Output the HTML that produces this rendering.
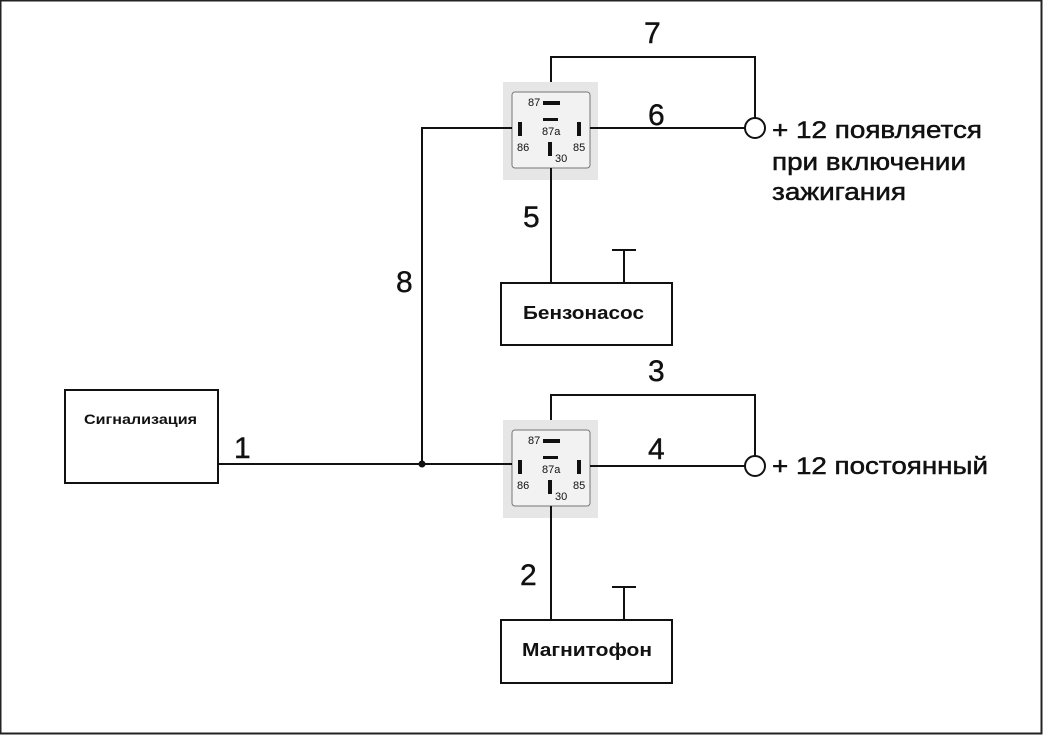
<!DOCTYPE html>
<html><head><meta charset="utf-8"><style>
html,body{margin:0;padding:0;background:#fff}
svg{display:block}
text{font-family:"Liberation Sans",Arial,sans-serif;fill:#111}
</style></head><body>
<svg width="1043" height="736" viewBox="0 0 1043 736" xmlns="http://www.w3.org/2000/svg">
<rect x="0" y="0" width="1043" height="736" fill="#fff"/>
<rect x="0.5" y="0.5" width="1041" height="733" fill="none" stroke="#222" stroke-width="2"/>
<defs>
<g id="relay">
<rect x="503" y="82" width="95" height="98" fill="#e6e6e6"/>
<rect x="512" y="92" width="78" height="76" rx="3" fill="#f2f2f2" stroke="#777" stroke-width="1"/>
<rect x="543" y="101" width="17" height="4" fill="#111"/>
<rect x="543" y="118" width="15" height="3" fill="#111"/>
<rect x="518" y="122" width="4" height="14" fill="#111"/>
<rect x="577" y="122" width="4" height="14" fill="#111"/>
<rect x="548" y="142" width="4" height="14" fill="#111"/>
<text x="528" y="106" font-size="11">87</text>
<text x="542" y="135" font-size="11">87a</text>
<text x="517" y="151" font-size="11">86</text>
<text x="573" y="151" font-size="11">85</text>
<text x="555" y="162" font-size="11">30</text>
</g>
</defs>
<use href="#relay"/>
<use href="#relay" y="338"/>
<g stroke="#111" stroke-width="2" fill="none">
<polyline points="551,82 551,57 755,57 755,118"/>
<line x1="590" y1="128" x2="745" y2="128"/>
<circle cx="755" cy="128" r="10" fill="#fff"/>
<polyline points="512,128 422,128 422,464"/>
<line x1="551" y1="168" x2="551" y2="283"/>
<rect x="501" y="283" width="171" height="62"/>
<line x1="624" y1="250" x2="624" y2="283"/>
<line x1="612" y1="250" x2="636" y2="250"/>
<polyline points="551,420 551,395 755,395 755,456"/>
<line x1="590" y1="466" x2="745" y2="466"/>
<circle cx="755" cy="466" r="10" fill="#fff"/>
<line x1="218" y1="464" x2="512" y2="464"/>
<line x1="551" y1="506" x2="551" y2="620"/>
<rect x="501" y="620" width="171" height="63"/>
<line x1="624" y1="587" x2="624" y2="620"/>
<line x1="612" y1="587" x2="636" y2="587"/>
<rect x="65" y="390" width="153" height="93"/>
</g>
<circle cx="422" cy="464" r="3.5" fill="#111"/>
<g font-size="30" stroke="#111" stroke-width="0.4">
<text x="644" y="43">7</text>
<text x="648" y="125">6</text>
<text x="523" y="227">5</text>
<text x="396" y="292">8</text>
<text x="648" y="381">3</text>
<text x="648" y="459">4</text>
<text x="234" y="458">1</text>
<text x="520" y="585">2</text>
</g>
<g font-size="24" stroke="#111" stroke-width="0.5" lengthAdjust="spacingAndGlyphs">
<text x="772" y="138" textLength="210" lengthAdjust="spacingAndGlyphs">+ 12 появляется</text>
<text x="772" y="170" textLength="194" lengthAdjust="spacingAndGlyphs">при включении</text>
<text x="772" y="200" textLength="134" lengthAdjust="spacingAndGlyphs">зажигания</text>
<text x="772" y="474" textLength="216" lengthAdjust="spacingAndGlyphs">+ 12 постоянный</text>
</g>
<text x="523" y="319" font-size="18" font-weight="bold" textLength="121" lengthAdjust="spacingAndGlyphs">Бензонасос</text>
<text x="522" y="656" font-size="18" font-weight="bold" textLength="130" lengthAdjust="spacingAndGlyphs">Магнитофон</text>
<text x="84" y="424" font-size="14" font-weight="bold" textLength="113" lengthAdjust="spacingAndGlyphs">Сигнализация</text>
</svg>
</body></html>
